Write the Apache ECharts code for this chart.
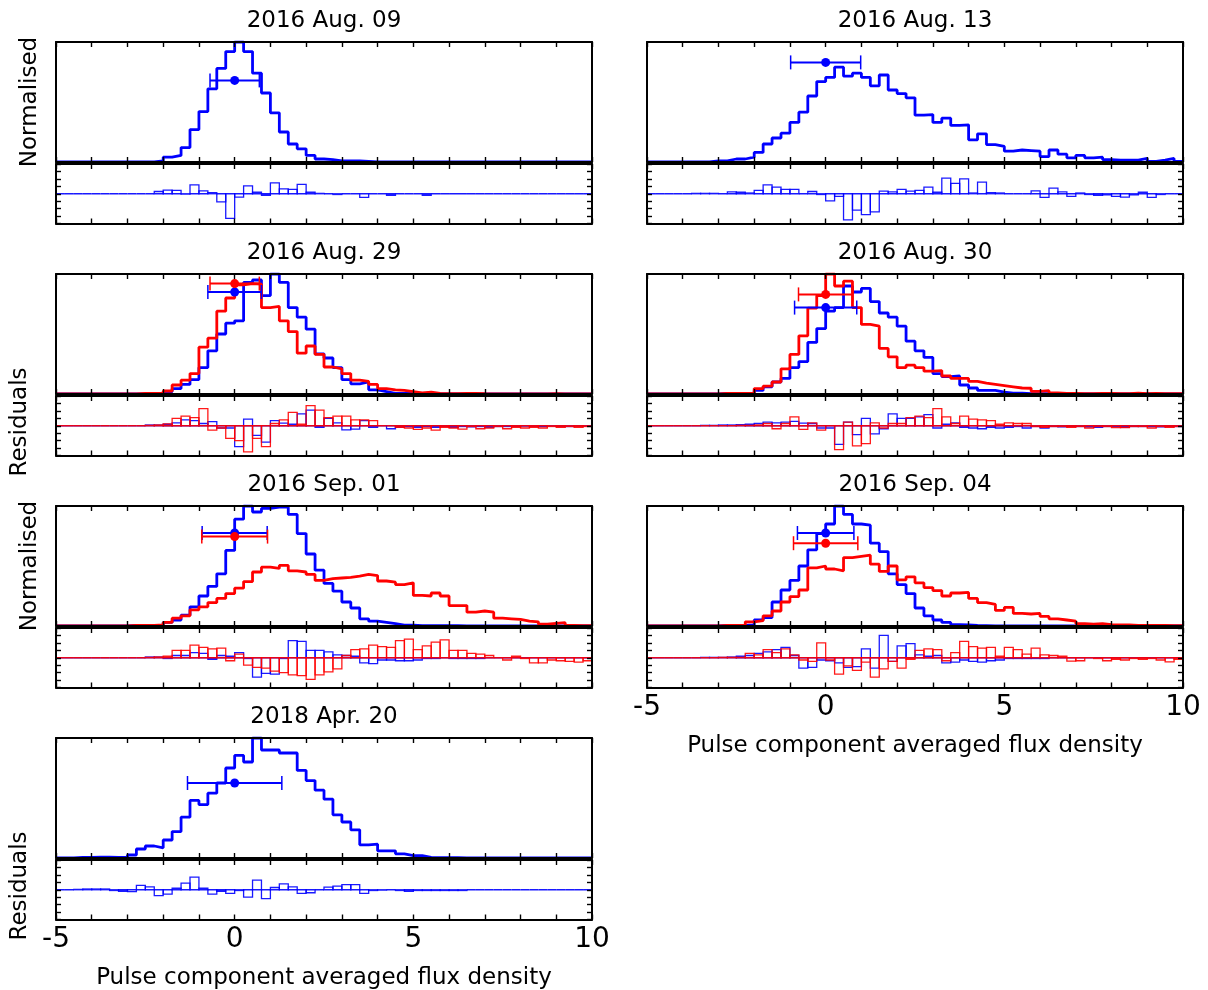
<!DOCTYPE html>
<html><head><meta charset="utf-8">
<script src="https://cdn.jsdelivr.net/npm/echarts/dist/echarts.min.js"></script>
<style>html,body{margin:0;padding:0;background:#fff}#c{width:1208px;height:990px}</style>
</head><body><div id="c"></div><script>
// ---- bins: 60 bins of width 0.25 from -5 to 10 ----
const binStart = -5, binWidth = 0.25;
const xTickLabels = [-5, 0, 5, 10];
const xName = 'Pulse component averaged flux density';

// ---- 2016 Aug. 09 ----
const a09Main = [0,0,0,0, 0,0,0,0, 0,0,0,0.01, 0.04,0.055,0.12,0.27, 0.42,0.61,0.78,0.92, 1.0,0.92,0.74,0.575, 0.41,0.25,0.15,0.11, 0.055,0.025,0.02,0.01, 0.01,0.01,0.005,0, 0,0,0,0, 0,0,0,0, 0,0,0,0, 0,0,0,0, 0,0,0,0, 0,0,0,0];
const a09Res  = [0,0,0,0, 0,0,0,0, 0,0,0,0.3, 0.5,0.45,-0.05,1.2, 0.4,0.15,-1.1,-3.3, -0.45,1.05,0.2,-0.2, 1.45,0.65,0.6,1.25, 0.2,0.05,0,-0.1, 0,0,-0.5,0, 0,-0.2,0,0, 0,-0.2,0,0, 0,0,0,0, 0,0,0,0, 0,0,0,0, 0,0,0,0];
const a09Err  = [0, 0.69, 0.68];   // centre, half-width, level

// ---- 2016 Aug. 13 ----
const a13Main = [0,0,0,0, 0,0,0,0.01, 0.01,0.025,0.025,0.04, 0.08,0.15,0.2,0.24, 0.33,0.415,0.55,0.67, 0.705,0.79,0.715,0.74, 0.705,0.635,0.725,0.6, 0.57,0.535,0.39,0.395, 0.33,0.365,0.305,0.31, 0.185,0.235,0.145,0.13, 0.09,0.1,0.095,0.09, 0.045,0.1,0.065,0.035, 0.055,0.035,0.04,0.02, 0.015,0.015,0.015,0.03, 0.005,0.015,0.03,0.005];
const a13Res  = [0,0,0,0, 0,0.05,0.05,0.05, 0,0.25,0.2,0.1, 0.45,1.2,0.9,0.6, 0.6,0,0.3,-0.1, -0.95,-0.35,-3.5,-2.2, -2.8,-2.45,0.35,0.25, 0.6,0.35,0.45,0.9, 0.2,2.1,1.4,2.0, 0.1,1.55,0.15,0.1, 0,0,0,0.4, -0.5,0.75,0.25,-0.35, 0.1,-0.1,-0.2,-0.15, -0.35,-0.45,-0.15,0.2, -0.5,-0.1,0,0];
const a13Err  = [0, 0.98, 0.83];

// ---- 2016 Aug. 29 ----
const a29BlueMain = [0,0,0,0, 0,0,0,0, 0,0,0.005,0.005, 0.02,0.045,0.08,0.12, 0.22,0.36,0.5,0.59, 0.61,0.93,0.95,0.82, 1.0,0.93,0.72,0.64, 0.54,0.335,0.3,0.22, 0.12,0.085,0.1,0.035, 0.02,0.005,0.005,0.005, 0,0,0,0, 0,0,0,0, 0,0,0,0, 0,0,0,0, 0,0,0,0];
const a29RedMain  = [0,0,0,0, 0,0,0,0, 0,0.005,0.005,0.005, 0.025,0.075,0.115,0.17, 0.39,0.465,0.69,0.8, 0.91,0.92,0.915,0.72, 0.73,0.61,0.52,0.34, 0.4,0.33,0.225,0.21, 0.17,0.115,0.105,0.08, 0.045,0.035,0.03,0.02, 0.01,0.015,0.005,0.002, 0.002,0.005,0.005,0.002, 0,0,0,0, 0,0,0,0.003, 0,0,0,0];
const a29BlueRes  = [0,0,0,0, 0,0,0,0, 0,0,0.1,0.1, 0.2,0.4,0.8,0.7, 0.3,0.55,-0.3,-0.3, -2.8,0.9,-1.3,-2.2, 0.7,0.35,0.2,1.6, 2.1,-0.2,1.0,0.4, -0.55,-0.45,0.7,-0.2, 0,-0.4,-0.2,-0.1, -0.2,-0.1,-0.2,-0.1, -0.2,-0.1,-0.15,-0.1, -0.2,-0.1,-0.1,-0.1, -0.05,-0.1,-0.1,-0.05, -0.1,-0.1,-0.05,-0.05];
const a29RedRes   = [0,0,0,0, 0,0,0,0, 0,0,0.05,0.1, 0.25,1.0,1.3,1.1, 2.3,-0.6,-0.3,-1.7, -2.0,-3.5,-1.7,-2.8, 0.3,0.8,1.8,0.2, 2.7,2.1,1.1,1.3, 1.3,0.8,0.8,0.7, 0,0,-0.2,-0.3, -0.5,-0.3,-0.6,-0.2, -0.3,-0.45,-0.1,-0.4, -0.3,-0.1,-0.4,-0.2, -0.3,-0.2,-0.3,-0.1, -0.2,-0.1,-0.2,-0.1];
const a29BlueErr  = [0, 0.75, 0.85];
const a29RedErr   = [0, 0.69, 0.92];

// ---- 2016 Aug. 30 ----
const a30BlueMain = [0,0,0,0, 0,0,0,0, 0.005,0.005,0.005,0.005, 0.03,0.06,0.1,0.13, 0.22,0.27,0.43,0.545, 0.69,0.72,0.9,0.85, 0.88,0.77,0.675,0.64, 0.565,0.44,0.36,0.305, 0.17,0.145,0.15,0.075, 0.05,0.03,0.03,0.015, 0.008,0.008,0.003,0.003, 0.003,0,0,0, 0,0,0,0, 0,0,0,0, 0,0,0,0];
const a30RedMain  = [0,0,0,0, 0,0,0,0, 0.005,0.005,0.005,0.005, 0.045,0.065,0.1,0.21, 0.33,0.485,0.715,0.82, 1.0,0.9,0.94,0.72, 0.58,0.565,0.38,0.31, 0.22,0.24,0.22,0.19, 0.195,0.15,0.13,0.13, 0.105,0.09,0.08,0.07, 0.06,0.05,0.048,0.022, 0.028,0.01,0.006,0.006, 0.003,0.003,0.005,0.005, 0.003,0.003,0.008,0.003, 0.005,0.003,0.002,0.002];
const a30BlueRes  = [0,0,0,0, 0,0,0.05,0.05, 0.1,0.1,0.15,0.2, 0.3,0.5,0.4,0.5, 0.6,0.35,0.3,-0.3, -0.3,-2.5,0.5,-1.2, 1.0,-1.1,-0.4,1.6, 1.0,1.0,1.2,1.5, -0.3,0.2,0.4,-0.2, -0.3,-0.4,-0.2,-0.3, -0.2,-0.1,-0.3,-0.1, -0.3,-0.1,-0.15,-0.1, -0.1,-0.15,-0.2,-0.1, -0.1,-0.2,-0.1,-0.1, -0.1,-0.15,-0.1,-0.1];
const a30RedRes   = [0,0,0,0, 0,0,0,0, 0,0,0.05,0.05, 0.1,0.3,-0.4,0.3, 1.2,-0.5,0.4,-0.6, 0,-3.2,0.5,-2.7, -2.4,0.4,-0.3,0.3, 0.3,1.1,1.3,1.1, 2.3,1.2,0.3,1.3, 0.9,0.8,0.7,0.2, 0.4,0.3,0.3,-0.1, -0.2,-0.1,-0.1,-0.2, -0.1,-0.3,-0.1,-0.1, -0.25,-0.25,-0.1,-0.1, -0.3,-0.1,-0.2,-0.1];
const a30BlueErr  = [0, 0.87, 0.72];
const a30RedErr   = [0, 0.76, 0.83];

// ---- 2016 Sep. 01 ----
const s01BlueMain = [0,0,0,0, 0,0,0,0, 0.005,0.005,0.005,0.005, 0.03,0.05,0.09,0.16, 0.25,0.33,0.435,0.63, 0.89,1.0,0.95,0.98, 0.99,0.99,0.93,0.77, 0.6,0.465,0.355,0.29, 0.2,0.15,0.06,0.04, 0.03,0.02,0.008,0.008, 0.003,0.003,0.003,0.003, 0.003,0,0,0, 0,0,0,0, 0,0,0,0, 0,0,0,0];
const s01RedMain  = [0,0,0,0, 0,0,0,0, 0.005,0.005,0.005,0.01, 0.03,0.065,0.085,0.135, 0.16,0.195,0.23,0.27, 0.315,0.37,0.45,0.49, 0.48,0.505,0.46,0.45, 0.43,0.38,0.395,0.4, 0.405,0.415,0.43,0.42, 0.375,0.365,0.345,0.36, 0.255,0.25,0.275,0.25, 0.17,0.17,0.115,0.125, 0.115,0.065,0.06,0.055, 0.04,0.035,0.015,0.022, 0.028,0.005,0.003,0.003];
const s01BlueRes  = [0,0,0,0, 0,0,0,0, 0,0,0.1,0.1, -0.1,0.3,0.3,0.7, 0.6,-0.2,0.3,0.2, 0.7,-0.1,-2.6,-2.1, -2.2,-0.1,2.3,2.2, 1.0,1.0,0.8,0.4, 0.3,0.2,-0.7,-0.8, -0.3,-0.3,-0.4,-0.4, -0.3,-0.1,-0.1,0, -0.1,-0.1,-0.1,-0.1, 0,0,0,0, 0,0,0,0, 0,0,0,0];
const s01RedRes   = [0,0,0,0, 0,0,0,0, 0,0,0.05,0.1, 0.2,1.0,1.0,1.7, 1.4,1.2,1.3,-0.4, 0.5,-1.0,-1.3,-1.4, -1.8,-2.0,-2.3,-2.4, -2.9,-2.3,-1.9,-1.5, 0.3,1.1,1.2,1.7, 1.5,1.4,2.3,2.5, 1.1,1.6,2.1,2.4, 1.0,1.0,0.6,0.5, 0.3,0,-0.3,0.2, -0.1,-0.7,-0.7,-0.3, -0.4,-0.5,-0.6,-0.4];
const s01BlueErr  = [0, 0.91, 0.775];
const s01RedErr   = [0, 0.92, 0.745];

// ---- 2016 Sep. 04 ----
const s04BlueMain = [0,0,0,0, 0,0,0,0, 0.005,0.005,0.005,0.01, 0.05,0.07,0.2,0.3, 0.38,0.5,0.635,0.77, 0.85,1.0,0.93,0.85, 0.84,0.69,0.62,0.435, 0.345,0.27,0.15,0.085, 0.05,0.03,0.012,0.01, 0.005,0.003,0,0, 0,0,0,0, 0,0,0,0, 0,0,0,0, 0,0,0,0, 0,0,0,0];
const s04RedMain  = [0,0,0,0, 0,0,0,0, 0.004,0.004,0.004,0.035, 0.045,0.085,0.125,0.2, 0.245,0.3,0.485,0.5, 0.475,0.46,0.57,0.58, 0.59,0.515,0.455,0.5, 0.385,0.41,0.36,0.32, 0.295,0.25,0.275,0.28, 0.23,0.195,0.18,0.13, 0.155,0.105,0.1,0.105, 0.08,0.06,0.05,0.04, 0.02,0.015,0.02,0.012, 0.01,0.01,0.006,0.006, 0.004,0.004,0.002,0.002];
const s04BlueRes  = [0,0,0,0, 0,0,0.05,0.05, 0.05,0.1,0.2,0.3, 0.6,0.8,1.1,1.4, 0.3,-1.4,-1.3,-0.3, -0.4,-0.7,-1.3,-1.2, 1.2,-1.4,3.0,-0.5, 1.6,1.9,0.4,0.2, 0.3,-0.7,-0.6,-0.3, -0.5,-0.6,-0.4,-0.3, -0.1,-0.1,-0.1,-0.1, -0.1,0,0,0, 0,0,0,0, 0,0,0,0, 0,0,0,0];
const s04RedRes   = [0,0,0,0, 0,0,0,0, 0.05,0.05,0.05,0.6, 0.4,1.1,0.7,1.2, 0.4,-0.3,-0.5,2.0, -0.3,-2.2,-1.1,-1.7, -0.6,-2.6,-1.5,-0.5, -1.4,-0.2,1.0,1.2, 1.1,-0.4,0.7,2.2, 1.5,1.3,1.4,0.2, 1.4,1.1,0.5,1.3, 0.4,0.3,0.2,-0.45, -0.4,0,-0.1,-0.4, -0.2,-0.3,-0.1,-0.2, -0.1,-0.3,-0.55,-0.2];
const s04BlueErr  = [0, 0.79, 0.775];
const s04RedErr   = [0, 0.9, 0.69];

// ---- 2018 Apr. 20 ----
const a20Main = [0,0,0.005,0.005, 0.008,0.008,0.005,0.005, 0.025,0.075,0.1,0.085, 0.15,0.22,0.34,0.48, 0.445,0.54,0.625,0.75, 0.855,0.8,1.0,0.9, 0.9,0.875,0.875,0.73, 0.645,0.565,0.49,0.36, 0.3,0.235,0.11,0.115, 0.06,0.06,0.035,0.02, 0.02,0.005,0.003,0.003, 0.003,0.001,0.001,0.001, 0.001,0,0,0, 0,0,0,0, 0,0,0,0];
const a20Res  = [0,0,0.05,0.1, 0.1,0.1,-0.1,-0.2, -0.25,0.6,0.4,-0.8, -0.6,0.2,0.9,1.7, 0.2,-0.6,-0.2,-0.5, -0.1,-1.0,1.3,-1.2, 0.3,0.8,0.4,-0.5, -0.4,0,0.35,0.5, 0.7,0.7,-0.5,-0.1, -0.05,0,-0.1,-0.2, -0.1,-0.1,-0.1,-0.1, -0.1,-0.1,0,0, 0,0,0,0, 0,0,0,0, 0,0,0,0];
const a20Err  = [0, 1.32, 0.625];

const BLUE = '#0000ff', RED = '#ff0000';

const panels = [
  {title:'2016 Aug. 09', col:0, row:0, sets:[{c:BLUE, main:a09Main, res:a09Res, err:a09Err}]},
  {title:'2016 Aug. 13', col:1, row:0, sets:[{c:BLUE, main:a13Main, res:a13Res, err:a13Err}]},
  {title:'2016 Aug. 29', col:0, row:1, sets:[{c:BLUE, main:a29BlueMain, res:a29BlueRes, err:a29BlueErr},{c:RED, main:a29RedMain, res:a29RedRes, err:a29RedErr}]},
  {title:'2016 Aug. 30', col:1, row:1, sets:[{c:BLUE, main:a30BlueMain, res:a30BlueRes, err:a30BlueErr},{c:RED, main:a30RedMain, res:a30RedRes, err:a30RedErr}]},
  {title:'2016 Sep. 01', col:0, row:2, sets:[{c:BLUE, main:s01BlueMain, res:s01BlueRes, err:s01BlueErr},{c:RED, main:s01RedMain, res:s01RedRes, err:s01RedErr}]},
  {title:'2016 Sep. 04', col:1, row:2, sets:[{c:BLUE, main:s04BlueMain, res:s04BlueRes, err:s04BlueErr},{c:RED, main:s04RedMain, res:s04RedRes, err:s04RedErr}], xlabels:true},
  {title:'2018 Apr. 20', col:0, row:3, sets:[{c:BLUE, main:a20Main, res:a20Res, err:a20Err}], xlabels:true}
];

const FONT = '"DejaVu Sans", "Liberation Sans", sans-serif';
const grids = [], xAxes = [], yAxes = [], series = [], graphics = [];

function tickStyle(show){ return {show: show, inside: true, length: 5, lineStyle: {color: '#000', width: 1.4}}; }
const frame = {show: true, onZero: false, lineStyle: {color: '#000', width: 2}};

function stepData(vals){
  const d = vals.map((v, i) => [binStart + i * binWidth, v]);
  d.push([binStart + vals.length * binWidth, vals[vals.length - 1]]);
  return d;
}
function resRender(color){
  return function(params, api){
    const x0 = api.value(0), v = api.value(1);
    const p0 = api.coord([x0, 0]), p1 = api.coord([x0 + binWidth, v]);
    return {type: 'rect', shape: {x: p0[0], y: Math.min(p0[1], p1[1]), width: p1[0] - p0[0], height: Math.abs(p1[1] - p0[1])},
      style: {fill: 'none', stroke: color, lineWidth: 1.3, opacity: 0.9}};
  };
}
function errRender(color){
  return function(params, api){
    const c = api.value(0), y = api.value(1), h = api.value(2);
    const pl = api.coord([c - h, y]), pr = api.coord([c + h, y]), pc = api.coord([c, y]);
    return {type: 'group', children: [
      {type: 'line', shape: {x1: pl[0], y1: pl[1], x2: pr[0], y2: pr[1]}, style: {stroke: color, lineWidth: 2}},
      {type: 'line', shape: {x1: pl[0], y1: pl[1] - 7, x2: pl[0], y2: pl[1] + 7}, style: {stroke: color, lineWidth: 1.5}},
      {type: 'line', shape: {x1: pr[0], y1: pr[1] - 7, x2: pr[0], y2: pr[1] + 7}, style: {stroke: color, lineWidth: 1.5}},
      {type: 'circle', shape: {cx: pc[0], cy: pc[1], r: 4.5}, style: {fill: color}}
    ]};
  };
}

panels.forEach(p => {
  const left = p.col ? 647 : 56, width = 536;
  const mainTop = 42 + 232 * p.row;
  const boxes = [
    {top: mainTop, height: 120, kind: 'main'},
    {top: mainTop + 122, height: 59.5, kind: 'res'}
  ];
  const idx = {};
  boxes.forEach(b => {
    const gi = grids.length;
    grids.push({left: left, top: b.top, width: width, height: b.height});
    const showLab = b.kind === 'res' && !!p.xlabels;
    const xb = xAxes.length;
    xAxes.push({gridIndex: gi, type: 'value', min: -5, max: 10, interval: 1, position: 'bottom', z: 10,
      axisLine: frame, axisTick: tickStyle(true), splitLine: {show: false},
      axisLabel: {show: showLab, margin: 6, fontSize: 28, fontFamily: FONT, color: '#000', showMinLabel: true, showMaxLabel: true,
        formatter: v => xTickLabels.indexOf(v) >= 0 ? String(v) : ''}});
    xAxes.push({gridIndex: gi, type: 'value', min: -5, max: 10, interval: 1, position: 'top', z: 10,
      axisLine: frame, axisTick: tickStyle(true), splitLine: {show: false}, axisLabel: {show: false}});
    const yl = yAxes.length;
    const isRes = b.kind === 'res';
    const yBase = isRes ? {min: -4, max: 4, interval: 1} : {min: 0, max: 1, interval: 0.5};
    yAxes.push(Object.assign({gridIndex: gi, type: 'value', position: 'left', z: 10, axisLine: frame,
      axisTick: tickStyle(isRes), axisLabel: {show: false}, splitLine: {show: false}}, yBase));
    yAxes.push(Object.assign({gridIndex: gi, type: 'value', position: 'right', z: 10, axisLine: frame,
      axisTick: tickStyle(isRes), axisLabel: {show: false}, splitLine: {show: false}}, yBase));
    idx[b.kind] = {x: xb, y: yl};
  });
  p.sets.forEach(s => {
    series.push({type: 'line', xAxisIndex: idx.main.x, yAxisIndex: idx.main.y, data: stepData(s.main), step: 'end',
      symbol: 'none', lineStyle: {color: s.c, width: 2.8}, itemStyle: {color: s.c}, z: 3, silent: true});
    series.push({type: 'custom', xAxisIndex: idx.res.x, yAxisIndex: idx.res.y, renderItem: resRender(s.c),
      data: s.res.map((v, i) => [binStart + i * binWidth, v]), z: 3, silent: true});
  });
  p.sets.forEach(s => {
    series.push({type: 'custom', xAxisIndex: idx.main.x, yAxisIndex: idx.main.y, renderItem: errRender(s.c),
      encode: {x: 0, y: 1}, data: [s.err.slice(0, 1).concat([s.err[2], s.err[1]])], z: 4, silent: true});
  });
  graphics.push({type: 'text', x: left + width / 2, y: mainTop - 21,
    style: {text: p.title, font: '23px ' + FONT, fill: '#000', textAlign: 'center', textVerticalAlign: 'middle'}});
  if (p.xlabels) {
    graphics.push({type: 'text', x: left + width / 2, y: mainTop + 122 + 59.5 + 59,
      style: {text: xName, font: '23px ' + FONT, fill: '#000', textAlign: 'center', textVerticalAlign: 'middle'}});
  }
  if (p.col === 0) {
    const isNorm = p.row % 2 === 0;
    graphics.push({type: 'text', x: isNorm ? 30 : 20, y: isNorm ? mainTop + 60 : mainTop + 122 + 26, rotation: Math.PI / 2,
      style: {text: isNorm ? 'Normalised' : 'Residuals', font: '23px ' + FONT, fill: '#000', textAlign: 'center', textVerticalAlign: 'middle'}});
  }
});

const chart = echarts.init(document.getElementById('c'), null, {renderer: 'canvas'});
chart.setOption({
  animation: false,
  backgroundColor: '#fff',
  grid: grids, xAxis: xAxes, yAxis: yAxes, series: series, graphic: graphics
});
</script></body></html>
